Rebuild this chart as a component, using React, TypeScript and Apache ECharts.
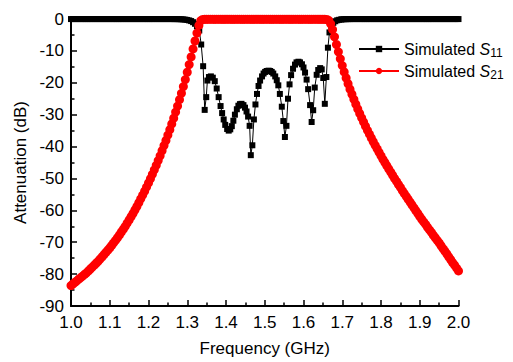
import React, { useEffect, useRef } from "react";
import * as echarts from "echarts";

const FONT = "'Liberation Sans', Arial, Helvetica, sans-serif";

// Frequency axis (GHz) and attenuation axis (dB)
const xMin = 1.0;
const xMax = 2.0;
const xInterval = 0.1;
const yMin = -90;
const yMax = 0;
const yInterval = 10;

// Simulated S21: sampled every 0.005 GHz from 1.000 to 2.000 GHz
const s21StartGHz = 1.0;
const s21StepGHz = 0.005;
const s21Db = [
  -83.6, -83.1, -82.6, -82.1, -81.6, -81.1, -80.6, -80.1, -79.6, -79.0,
  -78.4, -77.8, -77.2, -76.6, -76.0, -75.3, -74.6, -73.9, -73.2, -72.5,
  -71.8, -71.0, -70.2, -69.4, -68.6, -67.7, -66.8, -65.9, -65.0, -64.0,
  -63.0, -62.0, -61.0, -59.9, -58.8, -57.6, -56.4, -55.2, -54.0, -52.7,
  -51.4, -50.1, -48.7, -47.3, -45.9, -44.4, -42.9, -41.3, -39.7, -38.1,
  -36.4, -34.7, -32.9, -31.1, -29.2, -27.3, -25.3, -23.3, -21.2, -19.0,
  -16.7, -14.3, -11.9, -9.4, -6.9, -4.4, -2.0, -0.5,
  -0.15, -0.1, -0.1, -0.1, -0.05, -0.1, -0.1, -0.1, -0.05, -0.1,
  -0.1, -0.1, -0.1, -0.05, -0.1, -0.1, -0.1, -0.1, -0.05, -0.1,
  -0.1, -0.1, -0.1, -0.05, -0.1, -0.1, -0.1, -0.1, -0.05, -0.1,
  -0.1, -0.1, -0.1, -0.05, -0.1, -0.1, -0.1, -0.1, -0.05, -0.1,
  -0.1, -0.1, -0.1, -0.05, -0.1, -0.1, -0.1, -0.1, -0.05, -0.1,
  -0.1, -0.1, -0.1, -0.05, -0.1, -0.1, -0.1, -0.1, -0.05, -0.1,
  -0.1, -0.1, -0.1, -0.1, -0.15,
  -0.4, -1.5, -3.3, -5.6, -8.0, -10.3, -12.5, -14.6, -16.6, -18.5,
  -20.3, -22.0, -23.6, -25.2, -26.7, -28.2, -29.6, -31.0, -32.3, -33.6,
  -34.9, -36.1, -37.3, -38.5, -39.6, -40.7, -41.8, -42.9, -44.0, -45.0,
  -46.0, -47.0, -48.0, -49.0, -50.0, -50.9, -51.9, -52.8, -53.8, -54.7,
  -55.6, -56.5, -57.4, -58.3, -59.2, -60.1, -61.0, -61.9, -62.8, -63.6,
  -64.4, -65.3, -66.1, -66.9, -67.8, -68.6, -69.4, -70.2, -71.1, -72.0,
  -72.8, -73.7, -74.6, -75.5, -76.4, -77.2, -78.1, -79.0,
];

// Simulated S11: lower stopband, every 0.005 GHz from 1.000 to 1.295 GHz
const s11LowStartGHz = 1.0;
const s11LowStepGHz = 0.005;
const s11LowDb = [
  -0.02, -0.02, -0.02, -0.02, -0.02, -0.02, -0.02, -0.02, -0.02, -0.02,
  -0.02, -0.02, -0.02, -0.02, -0.02, -0.02, -0.02, -0.02, -0.02, -0.02,
  -0.02, -0.02, -0.02, -0.02, -0.02, -0.02, -0.02, -0.02, -0.02, -0.02,
  -0.02, -0.02, -0.02, -0.02, -0.02, -0.02, -0.02, -0.02, -0.02, -0.02,
  -0.02, -0.02, -0.02, -0.02, -0.02, -0.02, -0.02, -0.02, -0.02, -0.02,
  -0.02, -0.02, -0.02, -0.03, -0.03, -0.04, -0.06, -0.09, -0.13, -0.2,
];

// Simulated S11: passband region (frequency / dB pairs)
const s11BandFreq = [
  1.300, 1.305, 1.310, 1.315, 1.320, 1.325, 1.331, 1.336, 1.341, 1.345,
  1.349, 1.352, 1.356, 1.361, 1.366, 1.371, 1.376, 1.381, 1.386, 1.390,
  1.394, 1.398, 1.403, 1.407, 1.411, 1.415, 1.419, 1.423, 1.428, 1.432,
  1.436, 1.440, 1.445, 1.449, 1.453, 1.457, 1.461, 1.464, 1.468, 1.472,
  1.476, 1.480, 1.484, 1.488, 1.493, 1.497, 1.501, 1.505, 1.510, 1.514,
  1.518, 1.522, 1.527, 1.531, 1.535, 1.539, 1.544, 1.548, 1.552, 1.556,
  1.560, 1.564, 1.568, 1.573, 1.578, 1.582, 1.587, 1.591, 1.596, 1.600,
  1.604, 1.608, 1.612, 1.617, 1.621, 1.625, 1.629, 1.634, 1.638, 1.643,
  1.647, 1.651, 1.655, 1.659, 1.663, 1.667, 1.672, 1.677, 1.682, 1.687,
  1.692, 1.697,
];
const s11BandDb = [
  -0.3, -0.45, -0.65, -1.0, -1.5, -2.3, -3.6, -8.0, -14.8, -28.5,
  -24.5, -19.3, -18.2, -18.0, -18.4, -19.5, -21.8, -24.5, -27.3, -29.5,
  -31.5, -33.2, -34.5, -35.0, -34.6, -33.6, -31.9, -30.0, -28.3, -27.2,
  -26.7, -26.6, -27.0, -27.8, -29.0, -30.6, -33.5, -42.7, -39.6, -31.5,
  -26.8, -23.5, -21.0, -19.3, -18.0, -17.1, -16.6, -16.3, -16.2, -16.3,
  -16.6, -17.1, -18.0, -19.2, -20.8, -23.5, -27.5, -32.0, -37.0, -33.5,
  -25.0, -20.5, -17.6, -15.6, -14.3, -13.6, -13.4, -13.6, -14.2, -15.2,
  -16.8, -19.0, -22.0, -27.0, -32.3, -28.6, -21.5, -17.5, -16.0, -15.4,
  -15.8, -18.5, -26.6, -18.2, -9.0, -4.2, -2.2, -1.2, -0.7, -0.4,
  -0.25, -0.15,
];

// Simulated S11: upper stopband, every 0.005 GHz from 1.700 to 2.000 GHz
const s11HighStartGHz = 1.7;
const s11HighStepGHz = 0.005;
const s11HighDb = [
  -0.1, -0.07, -0.05, -0.04, -0.03, -0.02, -0.02, -0.02, -0.02, -0.02,
  -0.02, -0.02, -0.02, -0.02, -0.02, -0.02, -0.02, -0.02, -0.02, -0.02,
  -0.02, -0.02, -0.02, -0.02, -0.02, -0.02, -0.02, -0.02, -0.02, -0.02,
  -0.02, -0.02, -0.02, -0.02, -0.02, -0.02, -0.02, -0.02, -0.02, -0.02,
  -0.02, -0.02, -0.02, -0.02, -0.02, -0.02, -0.02, -0.02, -0.02, -0.02,
  -0.02, -0.02, -0.02, -0.02, -0.02, -0.02, -0.02, -0.02, -0.02, -0.02,
  -0.02,
];

const seriesNames = ["S11", "S21"];

const r3 = (v: number) => Math.round(v * 1000) / 1000;

export default function App() {
  const ref = useRef<HTMLDivElement>(null);

  useEffect(() => {
    if (!ref.current) return;
    const chart = echarts.init(ref.current, undefined, { renderer: "svg" });

    const s21Data = s21Db.map((v, i) => [r3(s21StartGHz + i * s21StepGHz), v]);
    const s11Data = [
      ...s11LowDb.map((v, i) => [r3(s11LowStartGHz + i * s11LowStepGHz), v]),
      ...s11BandFreq.map((f, i) => [f, s11BandDb[i]]),
      ...s11HighDb.map((v, i) => [r3(s11HighStartGHz + i * s11HighStepGHz), v]),
    ];

    const axisCommon = {
      axisLine: { show: true, onZero: false, lineStyle: { color: "#000", width: 2 } },
      axisTick: { show: true, inside: true, length: 6, lineStyle: { color: "#000", width: 1.5 } },
      minorTick: { show: true, splitNumber: 2, length: 3.5, lineStyle: { color: "#000", width: 1.5 } },
      splitLine: { show: false },
      minorSplitLine: { show: false },
      nameTextStyle: { color: "#000", fontSize: 17, fontFamily: FONT },
    };

    chart.setOption({
      animation: false,
      backgroundColor: "#ffffff",
      textStyle: { fontFamily: FONT },
      grid: { left: 71, right: 54.5, top: 19, bottom: 54.3, containLabel: false },
      xAxis: {
        type: "value",
        min: xMin,
        max: xMax,
        interval: xInterval,
        name: "Frequency (GHz)",
        nameLocation: "middle",
        nameGap: 34,
        ...axisCommon,
        axisLabel: {
          color: "#000",
          fontSize: 17,
          fontFamily: FONT,
          margin: 8,
          formatter: (v: number) => v.toFixed(1),
        },
      },
      yAxis: {
        type: "value",
        min: yMin,
        max: yMax,
        interval: yInterval,
        name: "Attenuation (dB)",
        nameLocation: "middle",
        nameGap: 39,
        ...axisCommon,
        axisLabel: {
          color: "#000",
          fontSize: 17,
          fontFamily: FONT,
          margin: 7,
        },
      },
      legend: {
        orient: "vertical",
        left: 353,
        top: 36,
        itemWidth: 40,
        itemHeight: 8,
        itemGap: 4,
        data: seriesNames,
        textStyle: {
          color: "#000",
          fontFamily: FONT,
          fontSize: 16,
          rich: {
            n: { fontSize: 16, lineHeight: 20, fontFamily: FONT, color: "#000" },
            i: { fontSize: 16, lineHeight: 20, fontStyle: "italic", fontFamily: FONT, color: "#000" },
            sub: { fontSize: 12, lineHeight: 12, verticalAlign: "bottom", fontFamily: FONT, color: "#000" },
          },
        },
        formatter: (name: string) => `{n|Simulated }{i|S}{sub|${name.slice(1)}}`,
      },
      series: [
        {
          name: "S11",
          type: "line",
          data: s11Data,
          symbol: "rect",
          symbolSize: 6,
          clip: false,
          z: 2,
          lineStyle: { color: "#000", width: 1 },
          itemStyle: { color: "#000" },
        },
        {
          name: "S21",
          type: "line",
          data: s21Data,
          symbol: "circle",
          symbolSize: 9,
          clip: false,
          z: 3,
          lineStyle: { color: "#ff0000", width: 1 },
          itemStyle: { color: "#ff0000" },
        },
      ],
    });

    return () => chart.dispose();
  }, []);

  return (
    <div
      ref={ref}
      style={{ position: "fixed", left: 0, top: 0, width: 513, height: 362, background: "#fff" }}
    />
  );
}
